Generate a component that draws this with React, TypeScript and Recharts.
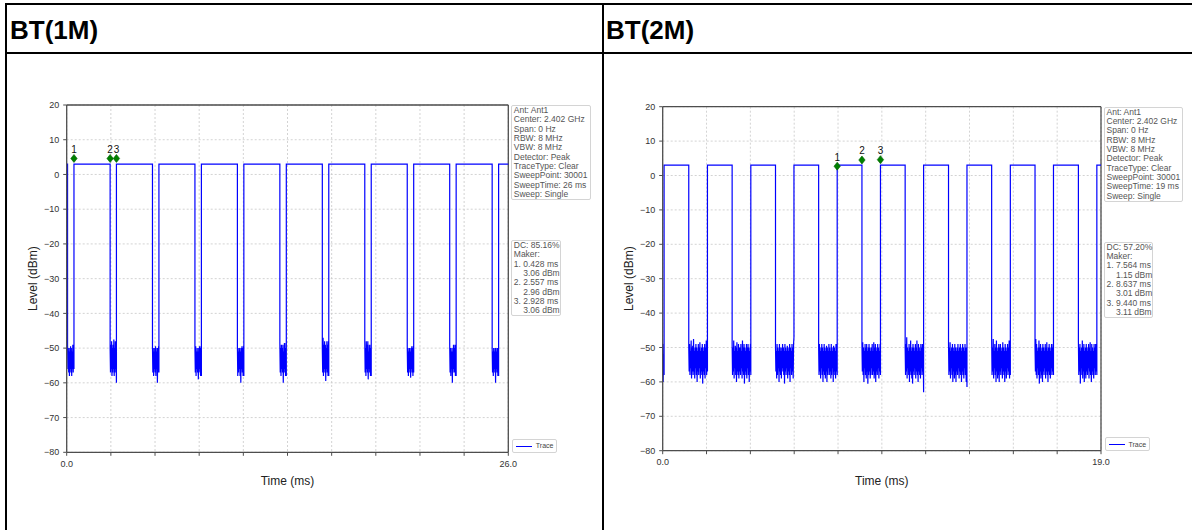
import React from "react";
import {
  CartesianGrid,
  ComposedChart,
  Line,
  ReferenceLine,
  Scatter,
  XAxis,
  YAxis,
} from "recharts";

// ---------- BT(1M): 26 ms zero-span sweep ----------
const span1M = 26;
const xTicks1M = [0, 2.6, 5.2, 7.8, 10.4, 13, 15.6, 18.2, 20.8, 23.4, 26];
const high1M = 3.0;
// [start, end] of each "off" gap (ms), where the trace sits in the noise floor
const gaps1M = [
  [0.05, 0.428], [2.557, 2.928], [5.05, 5.43], [7.55, 7.93], [10.05, 10.43], [12.55, 12.93],
  [15.05, 15.43], [17.55, 17.93], [20.05, 20.43], [22.55, 22.93], [25.05, 25.43],
];
// noise-floor samples (dBm)
const noise1M = [
  [-49, -56, -50, -57, -51, -58, -50, -56, -49.5, -57, -50, -58, -51, -56, -49, -57, -50, -56],
  [-50, -57, -49, -56, -48, -58, -50, -57, -49, -56, -47.5, -58, -50, -57, -48, -56, -50, -60],
  [-49.5, -57, -50, -58, -51, -56, -50, -57, -49.5, -58, -51, -56, -50, -60, -50, -57, -49.5, -57],
  [-50, -57, -49.5, -58, -51, -56, -50, -57, -51, -59, -50, -56, -49.5, -57, -50, -58, -49.5, -58],
  [-49.5, -58, -50, -57, -51, -56, -50, -58, -51, -60, -50, -56, -49.5, -57, -50, -58, -49.5, -58],
  [-48.5, -57, -50, -58, -49, -56, -50, -57, -49, -60, -51, -56, -48.5, -57, -50, -58, -48.5, -58],
  [-50, -57, -47, -58, -49, -56, -48, -57, -49, -59.5, -50, -56, -48, -57, -49, -58, -48, -58],
  [-48, -57, -50, -58, -48, -56, -49, -57, -48, -59, -51, -56, -49, -57, -50, -58, -49, -58],
  [-49.5, -57, -50, -58, -51, -56, -50, -57, -51, -58.5, -50, -56, -49.5, -57, -50, -58, -49.5, -57],
  [-49, -57, -50, -58, -51, -56, -50, -60, -51, -57, -49, -56, -50, -57, -49, -58, -50, -58],
  [-50, -57, -51, -58, -50, -56, -51, -57, -50, -60, -50, -56, -51, -57, -50, -58, -51, -58],
];
const markerNames1M = ["1", "2", "3"];
const markerTimes1M = [0.428, 2.557, 2.928];
const markerLevels1M = [4.6, 4.6, 4.6];
const info1M = [
  "Ant: Ant1", "Center: 2.402 GHz", "Span: 0 Hz", "RBW: 8 MHz", "VBW: 8 MHz",
  "Detector: Peak", "TraceType: Clear", "SweepPoint: 30001", "SweepTime: 26 ms", "Sweep: Single",
];
const makerText1M = [
  "DC: 85.16%", "Maker:", "1. 0.428 ms", "    3.06 dBm", "2. 2.557 ms", "    2.96 dBm",
  "3. 2.928 ms", "    3.06 dBm",
];

// ---------- BT(2M): 19 ms zero-span sweep ----------
const span2M = 19;
const xTicks2M = [0, 1.9, 3.8, 5.7, 7.6, 9.5, 11.4, 13.3, 15.2, 17.1, 19];
const high2M = 3.0;
const gaps2M = [
  [0, 0.06], [1.13, 1.94], [3.01, 3.82], [4.89, 5.69], [6.76, 7.564], [8.637, 9.44],
  [10.51, 11.31], [12.39, 13.19], [14.26, 15.07], [16.14, 16.94], [18.02, 18.82],
];
const noise2M = [
  [-49, -60, -52, -58],
  [-50, -57, -49, -58, -51, -56, -48, -59, -50, -57, -49.5, -58, -47.5, -57, -51, -59, -50, -56, -49, -58, -50, -60, -51, -57,
   -49, -58, -50, -56, -48.5, -59, -51, -57, -50, -58, -49, -60.5, -50, -57, -51, -58, -49, -59, -50, -56, -48, -58, -50, -57],
  [-49, -58, -50, -57, -48, -59, -51, -56, -49.5, -58, -50, -60, -48.5, -57, -51, -58, -49, -59, -50, -57, -50, -58, -49, -56,
   -51, -59, -48, -57, -50, -58, -49, -60.5, -50, -57, -51, -58, -49, -59, -50, -56, -49, -58, -50, -60, -51, -57, -49, -58],
  [-50, -57, -51, -59, -49, -58, -50, -56, -51, -60, -49, -57, -50, -58, -51, -59, -50, -56, -49, -57, -50, -58, -51, -60.5,
   -49, -57, -50, -58, -51, -56, -49.5, -59, -50, -57, -51, -58, -49, -60, -50, -56, -51, -58, -49, -57, -50, -59, -49, -47],
  [-50, -58, -49, -57, -51, -59, -50, -56, -49, -58, -50, -60, -51, -57, -49, -58, -50, -59, -51, -57, -49.5, -60, -50, -58,
   -51, -56, -49, -58, -50, -57, -51, -59, -49, -58, -50, -56, -51, -60, -49.5, -57, -50, -58, -51, -59, -49, -57, -50, -58],
  [-49, -57, -48.5, -58, -50, -60, -51, -56, -49, -58, -50, -59, -49, -57, -51, -60.5, -50, -58, -49, -57, -50, -59, -51, -58,
   -50, -56, -49, -58, -51, -57, -48.5, -59, -50, -58, -49, -60, -51, -57, -50, -58, -49, -56, -50, -59, -51, -57, -49, -58],
  [-50, -58, -49, -57, -47, -59, -50, -56, -51, -58, -49, -60, -50, -57, -48, -58, -51, -59, -50, -60.5, -49, -57, -50, -58,
   -51, -56, -49, -59, -50, -57, -48, -58, -51, -60, -49, -57, -50, -58, -51, -59, -49, -56, -50, -58, -49, -57, -50, -63],
  [-49, -58, -50, -57, -48.5, -59, -51, -56, -50, -58, -49, -60, -50, -57, -51, -59, -49, -58, -50, -60, -51, -57, -50, -58,
   -49, -56, -51, -59, -50, -57, -49, -58, -50, -60, -51, -57, -49, -58, -50, -59, -51, -56, -49, -58, -50, -60, -50, -61.5],
  [-48, -58, -50, -57, -47.5, -59, -51, -56, -49, -58, -50, -60, -48, -57, -51, -59, -50, -58, -49, -60, -50, -57, -49, -58,
   -51, -56, -50, -59, -48.5, -57, -50, -58, -51, -60, -49, -57, -50, -59, -51, -56, -49, -58, -50, -57, -48, -59, -50, -58],
  [-50, -57, -47.5, -58, -49, -59, -51, -56, -50, -58, -48, -60.5, -50, -57, -49, -59, -51, -58, -50, -60, -49, -57, -50, -58,
   -51, -56, -49, -59, -50, -57, -48.5, -58, -51, -60, -50, -57, -49, -58, -50, -59, -51, -56, -49, -58, -50, -57, -49, -58],
  [-48, -58, -50, -57, -49, -60.5, -51, -56, -50, -58, -48, -59, -50, -57, -49, -60, -51, -58, -50, -59, -49, -57, -50, -58,
   -51, -56, -49, -59, -50, -57, -48.5, -58, -51, -60, -49, -57, -50, -58, -51, -59, -49, -56, -50, -58, -49, -57, -50, -58],
];
const markerNames2M = ["1", "2", "3"];
const markerTimes2M = [7.564, 8.637, 9.44];
const markerLevels2M = [2.7, 4.5, 4.6];
const info2M = [
  "Ant: Ant1", "Center: 2.402 GHz", "Span: 0 Hz", "RBW: 8 MHz", "VBW: 8 MHz",
  "Detector: Peak", "TraceType: Clear", "SweepPoint: 30001", "SweepTime: 19 ms", "Sweep: Single",
];
const makerText2M = [
  "DC: 57.20%", "Maker:", "1. 7.564 ms", "    1.15 dBm", "2. 8.637 ms", "    3.01 dBm",
  "3. 9.440 ms", "    3.11 dBm",
];

const yTicks = [-80, -70, -60, -50, -40, -30, -20, -10, 0, 10, 20];

const FONT = "'Liberation Sans', Arial, sans-serif";
const SPINE = "#4d4d4d";
const TRACE = "#0000ff";

type Row = { t: number; level: number };

function buildTrace(span: number, high: number, gaps: number[][], noise: number[][]): Row[] {
  const rows: Row[] = [];
  if (gaps[0][0] > 0) rows.push({ t: 0, level: high });
  gaps.forEach(([a, b], i) => {
    if (a > 0) rows.push({ t: a, level: high });
    const vals = noise[i];
    vals.forEach((v, j) => rows.push({ t: a + ((b - a) * j) / (vals.length - 1), level: v }));
    rows.push({ t: b, level: high });
  });
  rows.push({ t: span, level: high });
  return rows;
}

function Diamond(props: any) {
  const { cx, cy, payload } = props;
  if (cx == null || cy == null) return null;
  return (
    <g>
      <polygon
        points={`${cx},${cy - 4} ${cx + 3.2},${cy} ${cx},${cy + 4} ${cx - 3.2},${cy}`}
        fill="#008000"
        stroke="#006000"
        strokeWidth={0.6}
      />
      <text x={cx} y={cy - 5.6} textAnchor="middle" fontSize={10} fill="#111" fontFamily={FONT}>
        {payload.name}
      </text>
    </g>
  );
}

interface PanelProps {
  left: number;
  width: number;
  height: number;
  plotLeft: number;
  plotRight: number;
  plotTop: number;
  plotBottom: number;
  span: number;
  xTicks: number[];
  rows: Row[];
  markers: { t: number; level: number; name: string }[];
  info: string[];
  maker: string[];
  infoW: number;
  makerW: number;
}

function Panel(p: PanelProps) {
  const axisH = 30;
  const midY = (p.plotTop + p.plotBottom) / 2;
  const midX = (p.plotLeft + p.plotRight) / 2;
  const tickStyle = { fontSize: 9, fill: "#333", fontFamily: FONT };
  const boxStyle: React.CSSProperties = {
    position: "absolute",
    border: "1px solid #d4d4d4",
    borderRadius: 2,
    background: "rgba(255,255,255,0.85)",
    fontFamily: FONT,
    fontSize: 8.5,
    lineHeight: "9.33px",
    color: "#555",
    whiteSpace: "pre",
    boxSizing: "border-box",
    padding: "0 2px",
  };
  return (
    <div style={{ position: "absolute", left: p.left, top: 0, width: p.width, height: p.height }}>
      <ComposedChart
        width={p.width}
        height={p.height}
        data={p.rows}
        margin={{
          top: p.plotTop,
          right: p.width - p.plotRight,
          bottom: p.height - p.plotBottom - axisH,
          left: 0,
        }}
      >
        <CartesianGrid stroke="#c8c8c8" strokeDasharray="2 2" strokeWidth={0.8} />
        <XAxis
          dataKey="t"
          type="number"
          domain={[0, p.span]}
          ticks={p.xTicks}
          interval={0}
          height={axisH}
          tickSize={3.5}
          tickMargin={4.5}
          tick={tickStyle}
          stroke={SPINE}
          axisLine={{ stroke: SPINE, strokeWidth: 1.3 }}
          tickFormatter={(v: number) => (v === 0 || v === p.span ? v.toFixed(1) : "")}
          label={() => (
            <text x={midX} y={481} textAnchor="middle" dominantBaseline="central" fontSize={12} fill="#222" fontFamily={FONT}>
              Time (ms)
            </text>
          )}
        />
        <YAxis
          type="number"
          domain={[-80, 20]}
          ticks={yTicks}
          interval={0}
          width={p.plotLeft}
          tickSize={3.5}
          tickMargin={4}
          tick={tickStyle}
          stroke={SPINE}
          axisLine={{ stroke: SPINE, strokeWidth: 1.3 }}
          tickFormatter={(v: number) => (v < 0 ? "\u2212" + Math.abs(v) : String(v))}
          label={() => (
            <text
              x={p.plotLeft - 34}
              y={midY}
              transform={`rotate(-90, ${p.plotLeft - 34}, ${midY})`}
              textAnchor="middle"
              dominantBaseline="central"
              fontSize={12}
              fill="#222"
              fontFamily={FONT}
            >
              Level (dBm)
            </text>
          )}
        />
        <ReferenceLine y={20} stroke={SPINE} strokeWidth={1.3} />
        <ReferenceLine x={p.span} stroke={SPINE} strokeWidth={1.3} />
        <Line
          name="Trace"
          type="linear"
          dataKey="level"
          stroke={TRACE}
          strokeWidth={1.2}
          dot={false}
          activeDot={false}
          isAnimationActive={false}
        />
        <Scatter
          data={p.markers}
          dataKey="level"
          shape={Diamond}
          legendType="none"
          isAnimationActive={false}
        />
      </ComposedChart>
      <div style={{ ...boxStyle, left: p.plotRight + 2.5, top: p.plotTop, width: p.infoW, height: 95 }}>
        {p.info.join("\n")}
      </div>
      <div style={{ ...boxStyle, left: p.plotRight + 2.5, top: p.plotTop + 135, width: p.makerW, height: 76 }}>
        {p.maker.join("\n")}
      </div>
      <div
        style={{
          position: "absolute",
          left: p.plotRight + 3.5,
          top: p.plotBottom - 13.5,
          width: 45,
          height: 14,
          boxSizing: "border-box",
          border: "1px solid #d4d4d4",
          borderRadius: 2,
          background: "#fff",
          fontFamily: FONT,
          fontSize: 7,
          color: "#444",
        }}
      >
        <span style={{ position: "absolute", left: 3, top: 6, width: 16, height: 1.2, background: TRACE }} />
        <span style={{ position: "absolute", left: 23, top: 1.5, lineHeight: "9px" }}>Trace</span>
      </div>
    </div>
  );
}

const rows1M = buildTrace(span1M, high1M, gaps1M, noise1M);
const rows2M = buildTrace(span2M, high2M, gaps2M, noise2M);
const markers1M = markerTimes1M.map((t, i) => ({ t, level: markerLevels1M[i], name: markerNames1M[i] }));
const markers2M = markerTimes2M.map((t, i) => ({ t, level: markerLevels2M[i], name: markerNames2M[i] }));

const headerStyle: React.CSSProperties = {
  position: "absolute",
  top: 17,
  fontFamily: FONT,
  fontWeight: "bold",
  fontSize: 26,
  lineHeight: "26px",
  color: "#000",
};

export default function App() {
  return (
    <div
      style={{
        position: "absolute",
        left: 0,
        top: 0,
        width: 1192,
        height: 530,
        overflow: "hidden",
        background: "#fff",
      }}
    >
      <div style={{ ...headerStyle, left: 10 }}>BT(1M)</div>
      <div style={{ ...headerStyle, left: 606 }}>BT(2M)</div>

      <Panel
        left={0}
        width={600}
        height={500}
        plotLeft={66.7}
        plotRight={508.3}
        plotTop={105}
        plotBottom={452.3}
        span={span1M}
        xTicks={xTicks1M}
        rows={rows1M}
        markers={markers1M}
        info={info1M}
        maker={makerText1M}
        infoW={80}
        makerW={50}
      />
      <Panel
        left={600}
        width={592}
        height={500}
        plotLeft={62.7}
        plotRight={501}
        plotTop={106.7}
        plotBottom={450.7}
        span={span2M}
        xTicks={xTicks2M}
        rows={rows2M}
        markers={markers2M}
        info={info2M}
        maker={makerText2M}
        infoW={79}
        makerW={49}
      />

      {/* table rules */}
      <div style={{ position: "absolute", left: 5, top: 3, width: 1187, height: 2, background: "#000" }} />
      <div style={{ position: "absolute", left: 5, top: 52, width: 1187, height: 2, background: "#000" }} />
      <div style={{ position: "absolute", left: 5, top: 3, width: 2, height: 527, background: "#000" }} />
      <div style={{ position: "absolute", left: 602, top: 3, width: 2, height: 527, background: "#000" }} />
    </div>
  );
}
